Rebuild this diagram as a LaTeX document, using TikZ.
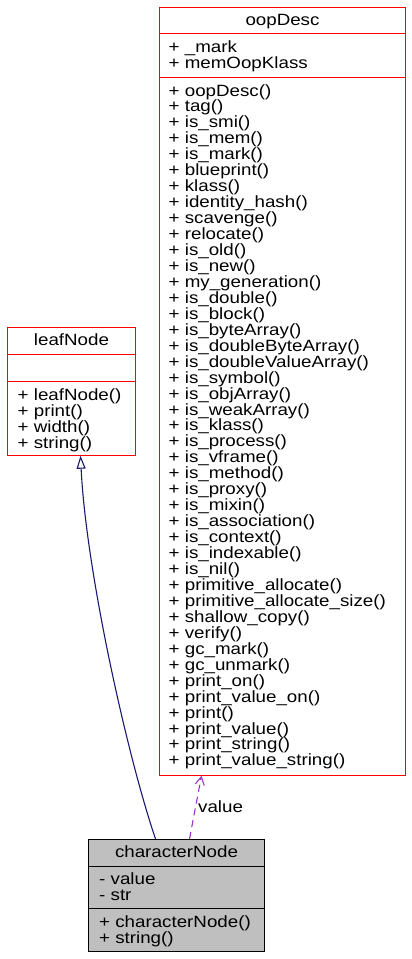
\documentclass[tikz,border=0pt]{standalone}
\usepackage{fontspec}
\setmainfont{Liberation Sans}[FakeStretch=1.15]
\usetikzlibrary{arrows.meta}
\definecolor{grey75}{RGB}{191,191,191}
\definecolor{edgenavy}{RGB}{25,25,112}
\definecolor{edgepurple}{RGB}{154,50,205}
\definecolor{boxred}{RGB}{255,0,0}
\tikzset{
  clsbox/.style={fill=white, inner sep=0pt, rectangle},
  curbox/.style={draw=black, fill=grey75, line width=1.2pt, inner sep=0pt, rectangle},
  sepred/.style={draw=boxred, line width=1.3pt},
  sepblack/.style={draw=black, line width=1.2pt},
  txt/.style={anchor=base west, inner sep=0pt, font=\fontsize{16.3}{16}\selectfont},
  hdr/.style={anchor=base, inner sep=0pt, font=\fontsize{16.3}{16}\selectfont},
  inherit/.style={draw=edgenavy, line width=1.1pt, -{Triangle[open, length=13pt, width=9pt]}},
  uses/.style={draw=edgepurple, line width=1.1pt, dash pattern=on 7pt off 5pt, -{Straight Barb[length=8pt, width=9pt]}}
}
\begin{document}
\begin{tikzpicture}[x=1pt, y=-1pt]
\useasboundingbox (0,0) rectangle (412,959);

% ---------- oopDesc ----------
\node[clsbox, minimum width=246pt, minimum height=768pt] (oop) at (282.5,391.5) {};
\draw[sepred] (oop.north west) rectangle (oop.south east);
\draw[sepred] (oop.west |- 0,33.5) -- (oop.east |- 0,33.5);
\draw[sepred] (oop.west |- 0,77.5) -- (oop.east |- 0,77.5);
\node[hdr] (oophdr) at (282.5,25.5) {oopDesc};
\node[txt] (oopa0) at (168.5,52) {+ \_mark};
\node[txt] (oopa1) at (168.5,68) {+ memOopKlass};
\foreach \t [count=\i from 0] in {oopDesc(), tag(), is\_smi(), is\_mem(), is\_mark(), blueprint(), klass(), identity\_hash(), scavenge(), relocate(), is\_old(), is\_new(), my\_generation(), is\_double(), is\_block(), is\_byteArray(), is\_doubleByteArray(), is\_doubleValueArray(), is\_symbol(), is\_objArray(), is\_weakArray(), is\_klass(), is\_process(), is\_vframe(), is\_method(), is\_proxy(), is\_mixin(), is\_association(), is\_context(), is\_indexable(), is\_nil(), primitive\_allocate(), primitive\_allocate\_size(), shallow\_copy(), verify(), gc\_mark(), gc\_unmark(), print\_on(), print\_value\_on(), print(), print\_value(), print\_string(), print\_value\_string()}
  \node[txt] (oopm\i) at (168.5,{96+\i*15.95}) {+ \t};

% ---------- leafNode ----------
\node[clsbox, minimum width=128pt, minimum height=128pt] (leaf) at (71.5,391.5) {};
\draw[sepred] (leaf.north west) rectangle (leaf.south east);
\draw[sepred] (leaf.west |- 0,354.5) -- (leaf.east |- 0,354.5);
\draw[sepred] (leaf.west |- 0,381.5) -- (leaf.east |- 0,381.5);
\node[hdr] (leafhdr) at (71.5,345.5) {leafNode};
\foreach \t [count=\i from 0] in {leafNode(), print(), width(), string()}
  \node[txt] (leafm\i) at (17.5,{400+\i*16}) {+ \t};

% ---------- characterNode ----------
\node[curbox, minimum width=176pt, minimum height=112pt] (cn) at (176.5,895.5) {};
\draw[sepblack] (cn.west |- 0,866.5) -- (cn.east |- 0,866.5);
\draw[sepblack] (cn.west |- 0,908.5) -- (cn.east |- 0,908.5);
\node[hdr] (cnhdr) at (176.5,857.5) {characterNode};
\node[txt] (cna0) at (99,884) {- value};
\node[txt] (cna1) at (99,900) {- str};
\node[txt] (cnm0) at (99,927) {+ characterNode()};
\node[txt] (cnm1) at (99,943) {+ string()};

% ---------- connectors ----------
\draw[inherit] ([xshift=-21pt]cn.north) .. controls (127,755) and (86,570) .. ([xshift=9pt]leaf.south);
\draw[uses] ([xshift=13pt]cn.north) -- ([xshift=-81pt]oop.south);
\node[txt] (vlabel) at (198,812) {value};
\end{tikzpicture}
\end{document}
